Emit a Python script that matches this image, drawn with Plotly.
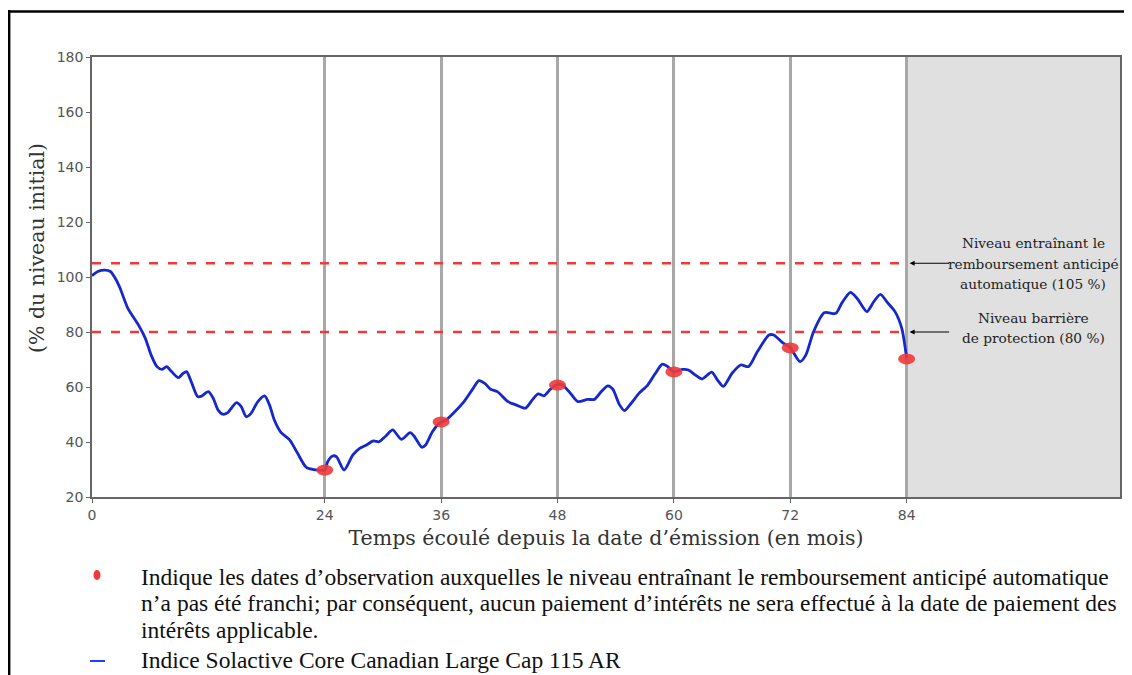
import plotly.graph_objects as go

# ---------------- data ----------------
months = [0, 0.6, 1.3, 1.9, 2.5, 2.9, 3.7, 4.8, 5.5, 6.1, 6.7, 7.2, 7.7, 8.2, 8.9, 9.4, 9.75,
          10.3, 10.9, 11.3, 12.0, 12.5, 13.0, 13.5, 14.0, 14.9, 15.4, 15.9, 16.4, 17.1, 17.8,
          18.3, 18.8, 19.5, 20.4, 21.2, 22.1, 23.3, 24.0, 24.3, 24.8, 25.2, 26.0, 26.9, 27.6,
          28.3, 29.0, 29.6, 30.3, 31.0, 31.9, 32.8, 33.2, 34.0, 34.4, 35.1, 35.8, 36.5, 37.4,
          38.4, 39.3, 39.9, 40.5, 41.1, 41.8, 42.9, 43.7, 44.7, 45.4, 46.0, 46.6, 47.3, 48.0,
          48.5, 49.2, 50.1, 51.1, 51.8, 52.5, 53.2, 53.7, 54.4, 54.9, 55.6, 56.4, 57.3, 58.1,
          58.8, 59.3, 60.0, 60.9, 61.5, 62.2, 62.9, 63.9, 64.5, 65.1, 66.0, 66.9, 67.7, 68.6,
          69.8, 70.3, 71.2, 72.0, 73.0, 73.6, 74.4, 75.5, 76.7, 77.3, 78.2, 78.9, 79.9, 80.6,
          81.3, 82.0, 82.8, 83.5, 84.0]
index_level = [100.5, 102, 102.5, 102, 98.9, 95.9, 88.6, 82.5, 77.7, 71.6, 67.4, 66.4, 67.4,
               65.6, 63.4, 65.0, 65.6, 61.3, 56.5, 56.7, 58.3, 55.9, 51.6, 50.1, 50.7, 54.3,
               52.8, 49.2, 50.4, 54.7, 56.8, 53.5, 48.0, 43.4, 40.7, 35.9, 30.8, 29.8, 29.8,
               32.8, 34.9, 34.7, 29.8, 35.3, 37.7, 38.9, 40.4, 40.1, 42.2, 44.4, 41.0, 43.4,
               42.2, 38.1, 38.9, 43.7, 46.8, 48.0, 51.0, 54.9, 59.5, 62.3, 61.3, 59.2, 58.3,
               54.7, 53.5, 52.3, 55.3, 57.5, 56.8, 59.3, 61.0, 60.7, 58.3, 54.7, 55.5, 55.5,
               58.3, 60.4, 59.2, 53.5, 51.4, 54.1, 57.7, 60.7, 65.0, 68.3, 67.6, 65.5, 66.4,
               66.2, 64.4, 62.9, 65.4, 62.5, 60.2, 65.0, 68.0, 67.4, 72.8, 78.9, 78.9, 76.1,
               74.3, 69.2, 71.6, 80.1, 87.0, 86.8, 90.4, 94.4, 92.2, 87.4, 91.0, 93.7, 90.8,
               87.4, 81.3, 70.4]
assert len(months) == len(index_level)

obs_months = [24, 36, 48, 60, 72, 84]
obs_levels = [29.8, 47.3, 60.7, 65.5, 74.2, 70.2]

autocall_level = 105
barrier_level = 80
maturity = 84
x_max = 106

x_ticks = [0, 24, 36, 48, 60, 72, 84]
y_ticks = [20, 40, 60, 80, 100, 120, 140, 160, 180]

autocall_lines = ["Niveau entraînant le", "remboursement anticipé", "automatique (105 %)"]
barrier_lines = ["Niveau barrière", "de protection (80 %)"]
x_title = "Temps écoulé depuis la date d’émission (en mois)"
y_title = "(% du niveau initial)"
legend_lines_dot = [
    "Indique les dates d’observation auxquelles le niveau entraînant le remboursement anticipé automatique",
    "n’a pas été franchi; par conséquent, aucun paiement d’intérêts ne sera effectué à la date de paiement des",
    "intérêts applicable.",
]
legend_line_index = "Indice Solactive Core Canadian Large Cap 115 AR"

# ---------------- layout constants ----------------
OFF = 8  # page body margin offset
W, H = 1132 - OFF, 675 - OFF
L, T = 92 - OFF, 57 - OFF
R = W - (1122 - OFF)
B = H - (497 - OFF)
PW, PH = W - L - R, H - T - B


def px_x(px):
    return (px - OFF - L) / PW


def px_y(py):
    return (H - B - (py - OFF)) / PH


RED = "#ee3a3a"
BLUE = "#1628cc"
SERIF = "DejaVu Serif"
TIMES = "Liberation Serif"

fig = go.Figure()

# threshold lines
for lvl in (autocall_level, barrier_level):
    fig.add_trace(go.Scatter(x=[0, maturity], y=[lvl, lvl], mode="lines",
                             line=dict(color=RED, width=2.5, dash="9px,10px"),
                             hoverinfo="skip", showlegend=False))

# index line
fig.add_trace(go.Scatter(x=months, y=index_level, mode="lines",
                         line=dict(color=BLUE, width=2.8, shape="spline", smoothing=0.7),
                         name=legend_line_index, showlegend=False))

shapes = []
# grey region after maturity
shapes.append(dict(type="rect", xref="x", yref="y", x0=maturity, x1=x_max, y0=20, y1=180,
                   fillcolor="#e0e0e0", line=dict(width=0), layer="below"))
# observation dots (ellipses anchored at data points)
for m, v in zip(obs_months, obs_levels):
    shapes.append(dict(type="circle", xref="x", yref="y", xsizemode="pixel", ysizemode="pixel",
                       xanchor=m, yanchor=v, x0=-8.5, x1=8.5, y0=-5.5, y1=5.5,
                       fillcolor=RED, line=dict(width=0), opacity=0.9, layer="above"))

# outer black frame (left and top edges)
shapes.append(dict(type="line", xref="paper", yref="paper", x0=px_x(9), x1=px_x(9),
                   y0=px_y(10), y1=px_y(680), line=dict(color="black", width=2.5)))
shapes.append(dict(type="line", xref="paper", yref="paper", x0=px_x(8), x1=px_x(1140),
                   y0=px_y(11.5), y1=px_y(11.5), line=dict(color="black", width=2.5)))

# legend symbols
shapes.append(dict(type="circle", xref="paper", yref="paper",
                   x0=px_x(93.5), x1=px_x(100.5), y0=px_y(580), y1=px_y(570),
                   fillcolor=RED, line=dict(width=0)))
shapes.append(dict(type="line", xref="paper", yref="paper",
                   x0=px_x(90), x1=px_x(105), y0=px_y(661), y1=px_y(661),
                   line=dict(color="#1f3fff", width=2)))

annotations = []
# right-side labels
for txt, py in zip(autocall_lines, [243, 263.5, 284]):
    annotations.append(dict(xref="paper", yref="paper", x=px_x(1035), y=px_y(py),
                            text=txt, showarrow=False, xanchor="center", yanchor="middle",
                            font=dict(family=SERIF, size=13.7, color="#222")))
for txt, py in zip(barrier_lines, [318, 338]):
    annotations.append(dict(xref="paper", yref="paper", x=px_x(1035), y=px_y(py),
                            text=txt, showarrow=False, xanchor="center", yanchor="middle",
                            font=dict(family=SERIF, size=13.7, color="#222")))
for lvl in (autocall_level, barrier_level):
    annotations.append(dict(xref="x", yref="y", x=maturity, y=lvl, text="", showarrow=True,
                            ax=44, ay=0, arrowhead=2, arrowsize=1,
                            arrowwidth=1, arrowcolor="black", standoff=3))

# y-axis title
annotations.append(dict(xref="paper", yref="paper", x=px_x(37), y=px_y(248), text=y_title,
                        textangle=-90, showarrow=False, xanchor="center", yanchor="middle",
                        font=dict(family=SERIF, size=20.5, color="#333")))

# legend text
for txt, py in zip(legend_lines_dot, [577, 603, 630]):
    annotations.append(dict(xref="paper", yref="paper", x=px_x(139), y=px_y(py), text=txt,
                            showarrow=False, xanchor="left", yanchor="middle",
                            font=dict(family=TIMES, size=23.5, color="#111")))
annotations.append(dict(xref="paper", yref="paper", x=px_x(139), y=px_y(660),
                        text=legend_line_index, showarrow=False, xanchor="left",
                        yanchor="middle", font=dict(family=TIMES, size=23.5, color="#111")))

fig.update_layout(
    width=W, height=H,
    margin=dict(l=L, r=R, t=T, b=B),
    paper_bgcolor="white", plot_bgcolor="white",
    shapes=shapes, annotations=annotations,
    showlegend=False,
    xaxis=dict(range=[0, x_max], tickvals=x_ticks, ticktext=[str(t) for t in x_ticks],
               showgrid=True, gridcolor="#a8a8a8", gridwidth=3, zeroline=False,
               showline=True, linecolor="#666", linewidth=1.5, mirror=True,
               ticks="outside", ticklen=4, tickcolor="#666",
               tickfont=dict(family="DejaVu Sans", size=14, color="#555"),
               title=dict(text=x_title, standoff=9,
                          font=dict(family=SERIF, size=20.5, color="#333"))),
    yaxis=dict(range=[20, 180], tickvals=y_ticks, showgrid=False, zeroline=False,
               showline=True, linecolor="#666", linewidth=1.5, mirror=True,
               ticks="outside", ticklen=4, tickcolor="#666",
               tickfont=dict(family="DejaVu Sans", size=14, color="#555")),
)

fig.write_html("out.html")
